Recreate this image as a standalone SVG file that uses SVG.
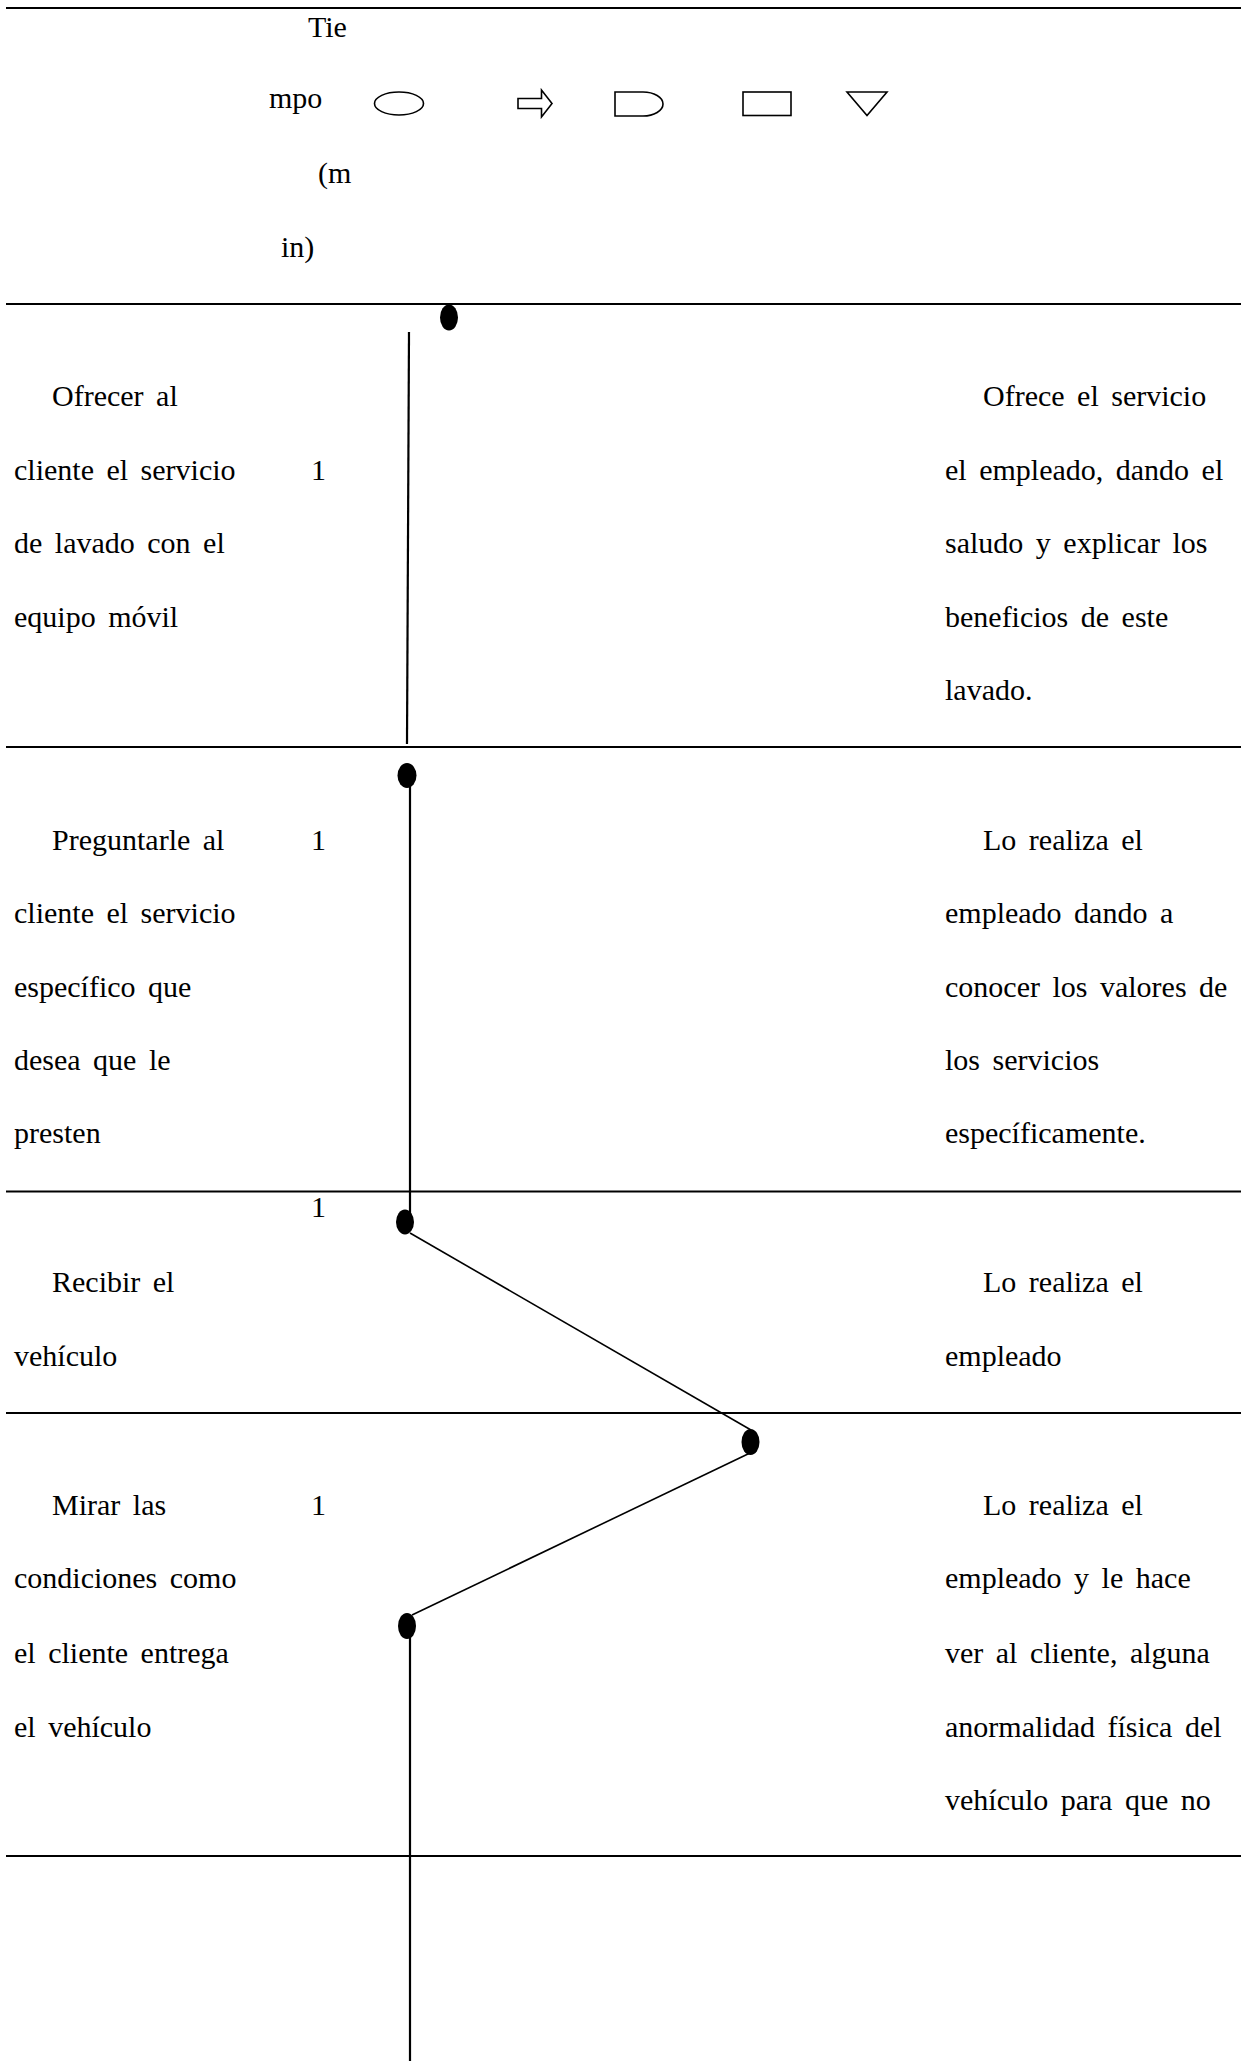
<svg xmlns="http://www.w3.org/2000/svg" width="1241" height="2061" viewBox="0 0 1241 2061">
<style>
  text { font-family: "Liberation Serif", "Times New Roman", serif; font-size: 30px; fill: #000; word-spacing: 5px; }
  .rule { stroke: #000; stroke-width: 2.2; }
  .sym { fill: none; stroke: #000; stroke-width: 1.6; }
  .vline { stroke: #000; stroke-width: 2.2; fill: none; }
  .dline { stroke: #000; stroke-width: 1.6; fill: none; }
  .dot { fill: #000; }
</style>
<rect width="1241" height="2061" fill="#fff"/>

<g id="rules">
  <line class="rule" x1="6" y1="8" x2="1241" y2="8"/>
  <line class="rule" x1="6" y1="304" x2="1241" y2="304"/>
  <line class="rule" x1="6" y1="747" x2="1241" y2="747"/>
  <line class="rule" x1="6" y1="1191.5" x2="1241" y2="1191.5"/>
  <line class="rule" x1="6" y1="1413" x2="1241" y2="1413"/>
  <line class="rule" x1="6" y1="1856" x2="1241" y2="1856"/>
</g>

<g id="header">
  <text x="308" y="37">Tie</text>
  <text x="269" y="108">mpo</text>
  <text x="318" y="183">(m</text>
  <text x="281" y="257">in)</text>
  <ellipse class="sym" cx="399" cy="103.5" rx="24.5" ry="11.5"/>
  <polygon class="sym" points="518,98.5 541.5,98.5 541.5,90 552,103.5 541.5,117 541.5,108.5 518,108.5"/>
  <path class="sym" d="M615,92 H643 A20,12 0 0 1 643,116 H615 Z"/>
  <rect class="sym" x="743" y="92" width="48" height="23.5"/>
  <polygon class="sym" points="847,92 887,92 867,115.5"/>
</g>

<g id="step1">
  <text x="52" y="406">Ofrecer al</text>
  <text x="14" y="480">cliente el servicio</text>
  <text x="14" y="553">de lavado con el</text>
  <text x="14" y="627">equipo móvil</text>
  <text x="311" y="480">1</text>
  <text x="983" y="406">Ofrece el servicio</text>
  <text x="945" y="480">el empleado, dando el</text>
  <text x="945" y="553">saludo y explicar los</text>
  <text x="945" y="627">beneficios de este</text>
  <text x="945" y="700">lavado.</text>
</g>

<g id="step2">
  <text x="52" y="850">Preguntarle al</text>
  <text x="14" y="923">cliente el servicio</text>
  <text x="14" y="997">específico que</text>
  <text x="14" y="1070">desea que le</text>
  <text x="14" y="1143">presten</text>
  <text x="311" y="850">1</text>
  <text x="983" y="850">Lo realiza el</text>
  <text x="945" y="923">empleado dando a</text>
  <text x="945" y="997">conocer los valores de</text>
  <text x="945" y="1070">los servicios</text>
  <text x="945" y="1143">específicamente.</text>
</g>

<g id="step3">
  <text x="311" y="1217">1</text>
  <text x="52" y="1292">Recibir el</text>
  <text x="14" y="1366">vehículo</text>
  <text x="983" y="1292">Lo realiza el</text>
  <text x="945" y="1366">empleado</text>
</g>

<g id="step4">
  <text x="52" y="1515">Mirar las</text>
  <text x="14" y="1588">condiciones como</text>
  <text x="14" y="1663">el cliente entrega</text>
  <text x="14" y="1737">el vehículo</text>
  <text x="311" y="1515">1</text>
  <text x="983" y="1515">Lo realiza el</text>
  <text x="945" y="1588">empleado y le hace</text>
  <text x="945" y="1663">ver al cliente, alguna</text>
  <text x="945" y="1737">anormalidad física del</text>
  <text x="945" y="1810">vehículo para que no</text>
</g>

<g id="connectors">
  <line class="vline" x1="409" y1="332" x2="407" y2="744"/>
  <line class="vline" x1="410" y1="776" x2="410" y2="1222"/>
  <line class="dline" x1="410" y1="1233" x2="751" y2="1430"/>
  <line class="dline" x1="750" y1="1453" x2="412" y2="1615"/>
  <line class="vline" x1="410" y1="1636" x2="410" y2="2061"/>
</g>

<g id="dots">
  <ellipse id="dot1" class="dot" cx="449" cy="317.5" rx="9" ry="13"/>
  <ellipse id="dot2" class="dot" cx="407" cy="775.5" rx="9.5" ry="12.5"/>
  <ellipse id="dot3" class="dot" cx="405" cy="1222" rx="9" ry="12.5"/>
  <ellipse id="dot4" class="dot" cx="750.5" cy="1442" rx="9" ry="13"/>
  <ellipse id="dot5" class="dot" cx="407" cy="1626" rx="9" ry="13"/>
</g>
</svg>
